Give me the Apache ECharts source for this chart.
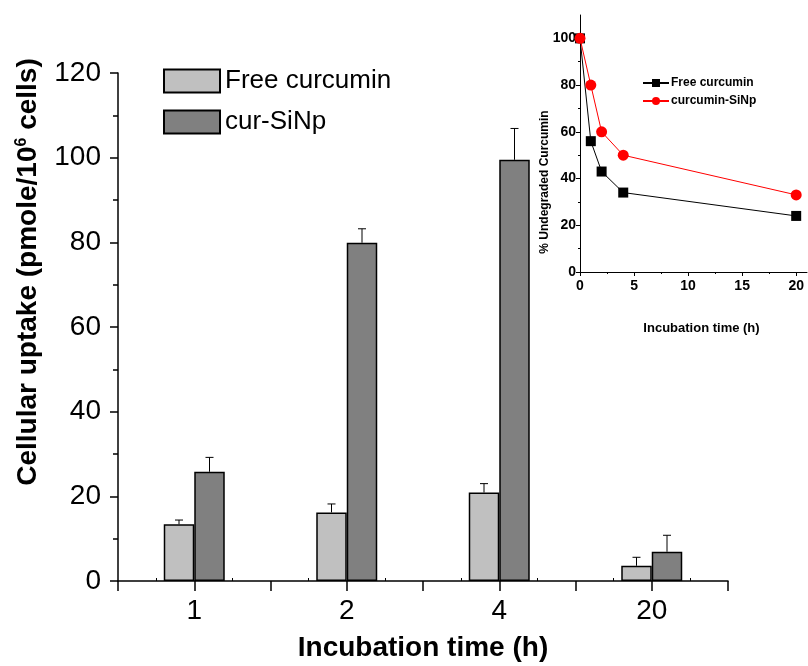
<!DOCTYPE html>
<html>
<head>
<meta charset="utf-8">
<script src="https://cdn.jsdelivr.net/npm/echarts@6/dist/echarts.min.js"></script>
<style>html,body{margin:0;padding:0;background:#fff}#c{width:808px;height:666px}</style>
</head>
<body>
<div id="c"></div>
<script>
// Main chart data
const categories = ['1', '2', '4', '20'];
const freeUptake = [13.4, 16.2, 20.9, 3.6];
const freeErr = [1.0, 2.0, 2.1, 2.0];
const sinpUptake = [25.8, 79.9, 99.5, 6.9];
const sinpErr = [3.4, 3.3, 7.4, 3.9];
const yTicks = [0, 20, 40, 60, 80, 100, 120];

// Inset data
const degTime = [0, 1, 2, 4, 20];
const freeDeg = [100, 56, 43, 34, 24];
const sinpDeg = [100, 80, 60, 50, 33];
const insetXTicks = [0, 5, 10, 15, 20];
const insetYTicks = [0, 20, 40, 60, 80, 100];

const ARIAL = '"Liberation Sans", Arial, sans-serif';
const NARROW = '"Liberation Sans Narrow", "Liberation Sans", Arial, sans-serif';
const BAR_FRACTION = 0.4;

function errRender(sign) {
  return function (params, api) {
    const idx = api.value(0), v = api.value(1), e = api.value(2);
    const band = api.size([1, 0])[0];
    const bw = band * BAR_FRACTION / 2;
    const base = api.coord([idx, v]);
    const top = api.coord([idx, v + e]);
    const x = base[0] + sign * bw / 2;
    const cap = 4;
    const st = { stroke: '#000', lineWidth: 1 };
    return {
      type: 'group',
      children: [
        { type: 'line', shape: { x1: x, y1: base[1], x2: x, y2: top[1] }, style: st },
        { type: 'line', shape: { x1: x - cap, y1: top[1], x2: x + cap, y2: top[1] }, style: st }
      ]
    };
  };
}

const chart = echarts.init(document.getElementById('c'));
chart.setOption({
  animation: false,
  backgroundColor: '#fff',
  grid: [
    { left: 118, right: 80, top: 73, bottom: 85, outerBoundsMode: 'none', containLabel: false },
    { left: 580, right: 1, top: 15, bottom: 394, outerBoundsMode: 'none', containLabel: false }
  ],
  legend: [
    {
      data: ['Free curcumin', 'cur-SiNp'],
      orient: 'vertical', left: 158, top: 63, icon: 'rect',
      itemWidth: 56, itemHeight: 23, itemGap: 15,
      textStyle: { fontSize: 26, fontFamily: ARIAL, color: '#000' }
    },
    {
      data: ['Free curcumin ', 'curcumin-SiNp'],
      orient: 'vertical', left: 637, top: 72,
      itemWidth: 26, itemHeight: 10, itemGap: 6,
      textStyle: { fontSize: 12, fontFamily: NARROW, fontWeight: 'bold', color: '#000', padding: [0, 0, 0, -3] }
    }
  ],
  xAxis: [
    {
      type: 'category', gridIndex: 0, data: categories,
      axisLine: { lineStyle: { color: '#000', width: 1.5 } },
      axisTick: { show: false },
      axisLabel: { fontSize: 28, fontFamily: ARIAL, color: '#000', margin: 16 },
      name: 'Incubation time (h)', nameLocation: 'middle', nameGap: 53,
      nameTextStyle: { fontSize: 28, fontWeight: 'bold', fontFamily: ARIAL, color: '#000' },
      splitLine: { show: false }
    },
    {
      type: 'value', gridIndex: 0, min: 0, max: 4, interval: 0.5, position: 'bottom',
      axisLine: { show: false },
      axisTick: { show: true, length: 10, lineStyle: { color: '#000', width: 1.5 } },
      axisLabel: { show: false }, splitLine: { show: false }
    },
    {
      type: 'value', gridIndex: 0, min: 0, max: 4, interval: 0.5, position: 'bottom',
      axisLine: { show: false },
      axisTick: { show: false, inside: true },
      minorTick: { show: true, splitNumber: 2, length: 3, lineStyle: { color: '#000', width: 1 } },
      axisLabel: { show: false }, splitLine: { show: false }
    },
    {
      type: 'value', gridIndex: 1, min: 0, max: 21, interval: 5,
      axisLine: { onZero: false, lineStyle: { color: '#000', width: 1 } },
      axisTick: { customValues: insetXTicks, length: 4, lineStyle: { color: '#000' } },
      minorTick: { show: true, splitNumber: 2, length: 2, lineStyle: { color: '#000' } },
      axisLabel: { customValues: insetXTicks, fontSize: 14, fontWeight: 'bold', fontFamily: NARROW, color: '#000', margin: 7 },
      name: 'Incubation time (h)', nameLocation: 'middle', nameGap: 50,
      nameTextStyle: { fontSize: 13, fontWeight: 'bold', fontFamily: NARROW, color: '#000', padding: [0, 0, 0, 16] },
      splitLine: { show: false }
    }
  ],
  yAxis: [
    {
      type: 'value', gridIndex: 0, min: 0, max: 120, interval: 20,
      axisLine: { show: true, lineStyle: { color: '#000', width: 1.5 } },
      axisTick: { show: true, length: 8, lineStyle: { color: '#000', width: 1.5 } },
      minorTick: { show: true, splitNumber: 2, length: 5, lineStyle: { color: '#000', width: 1.5 } },
      axisLabel: { customValues: yTicks, fontSize: 28, fontFamily: ARIAL, color: '#000', margin: 17 },
      splitLine: { show: false }
    },
    {
      type: 'value', gridIndex: 1, min: 0, max: 110, interval: 20,
      axisLine: { show: true, onZero: false, lineStyle: { color: '#000', width: 1 } },
      axisTick: { customValues: insetYTicks, length: 4, lineStyle: { color: '#000' } },
      minorTick: { show: true, splitNumber: 2, length: 2, lineStyle: { color: '#000' } },
      axisLabel: { customValues: insetYTicks, fontSize: 14, fontWeight: 'bold', fontFamily: NARROW, color: '#000', margin: 4 },
      splitLine: { show: false }
    }
  ],
  graphic: [
    {
      type: 'text', x: 28, y: 272, rotation: Math.PI / 2,
      style: {
        text: 'Cellular uptake (pmole/10{sup|6} cells)',
        fontSize: 28, fontWeight: 'bold', fontFamily: ARIAL, fill: '#000',
        align: 'center', verticalAlign: 'middle',
        rich: { sup: { fontSize: 16, fontWeight: 'bold', fontFamily: ARIAL, fill: '#000', verticalAlign: 'top', padding: [0, 0, 10, 0] } }
      }
    },
    {
      type: 'text', x: 545, y: 182, rotation: Math.PI / 2,
      style: {
        text: '% Undegraded Curcumin',
        fontSize: 12, fontWeight: 'bold', fontFamily: NARROW, fill: '#000',
        align: 'center', verticalAlign: 'middle'
      }
    }
  ],
  series: [
    {
      name: 'Free curcumin', type: 'bar', xAxisIndex: 0, yAxisIndex: 0,
      data: freeUptake, barGap: '0%', barCategoryGap: '60%',
      itemStyle: { color: '#c0c0c0', borderColor: '#000', borderWidth: 1.5 }
    },
    {
      name: 'cur-SiNp', type: 'bar', xAxisIndex: 0, yAxisIndex: 0,
      data: sinpUptake, barGap: '0%', barCategoryGap: '60%',
      itemStyle: { color: '#808080', borderColor: '#000', borderWidth: 1.5 }
    },
    {
      type: 'custom', xAxisIndex: 0, yAxisIndex: 0, renderItem: errRender(-1),
      data: freeUptake.map((v, i) => [i, v, freeErr[i]]), encode: { x: 0, y: 1 }, z: 1
    },
    {
      type: 'custom', xAxisIndex: 0, yAxisIndex: 0, renderItem: errRender(1),
      data: sinpUptake.map((v, i) => [i, v, sinpErr[i]]), encode: { x: 0, y: 1 }, z: 1
    },
    {
      name: 'Free curcumin ', type: 'line', xAxisIndex: 3, yAxisIndex: 1,
      data: degTime.map((t, i) => [t, freeDeg[i]]),
      symbol: 'rect', symbolSize: 10,
      lineStyle: { color: '#000', width: 1 },
      itemStyle: { color: '#000' }
    },
    {
      name: 'curcumin-SiNp', type: 'line', xAxisIndex: 3, yAxisIndex: 1,
      data: degTime.map((t, i) => [t, sinpDeg[i]]),
      symbol: 'circle', symbolSize: 11,
      lineStyle: { color: '#ff0000', width: 1 },
      itemStyle: { color: '#ff0000' }
    }
  ]
});
</script>
</body>
</html>
